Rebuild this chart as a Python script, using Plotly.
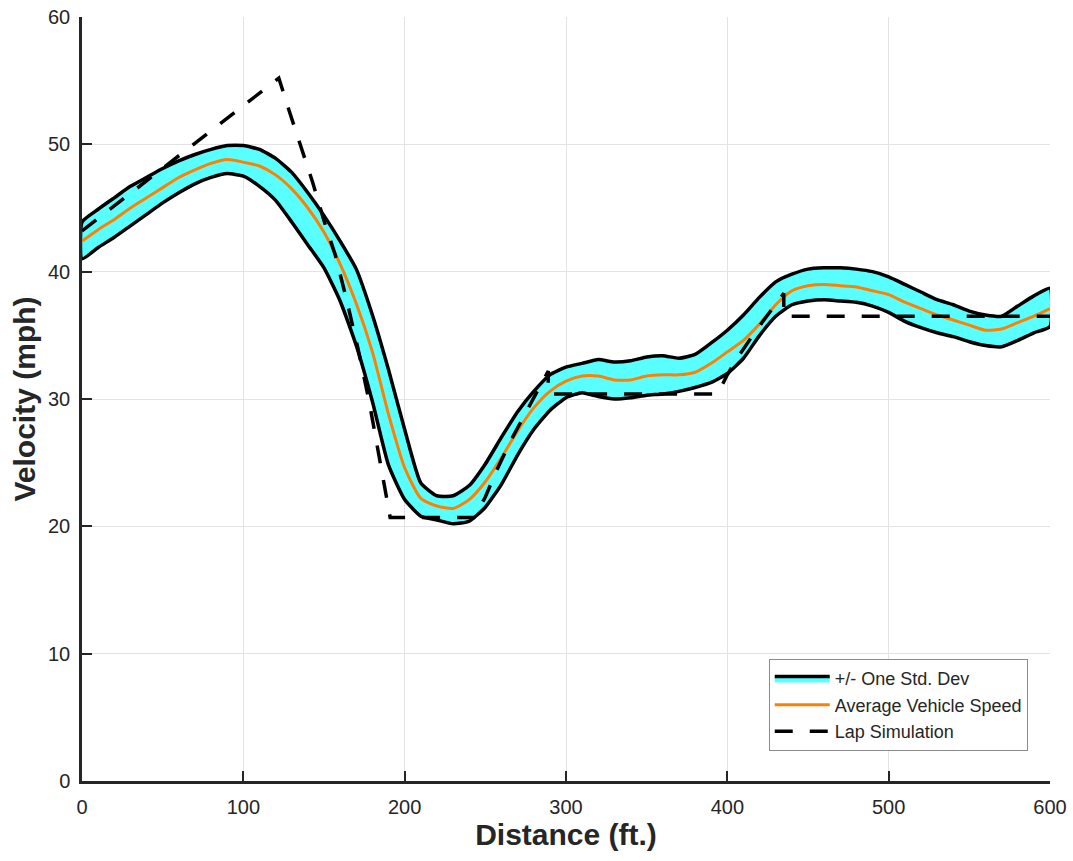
import plotly.graph_objects as go

# ---- data ----
distance = [0, 10, 20, 30, 40, 50, 60, 70, 80, 90, 100, 110, 120, 130, 140, 150, 160, 170, 180, 190,
            200, 210, 220, 230, 240, 250, 260, 270, 280, 290, 300, 310, 320, 330, 340, 350, 360, 370, 380, 390,
            400, 410, 420, 430, 440, 450, 460, 470, 480, 490, 500, 510, 520, 530, 540, 550, 560, 570, 580, 590, 600]

avg_speed = [42.4, 43.3, 44.1, 45.0, 45.8, 46.6, 47.4, 48.0, 48.5, 48.8, 48.6, 48.3, 47.6, 46.5, 45.0, 43.1, 40.6, 37.5, 33.7, 28.8,
             24.6, 22.2, 21.6, 21.4, 22.1, 23.5, 25.4, 27.5, 29.3, 30.6, 31.4, 31.8, 31.8, 31.5, 31.5, 31.8, 31.9, 31.9, 32.1, 32.8,
             33.7, 34.6, 35.9, 37.4, 38.5, 38.9, 39.0, 38.9, 38.8, 38.5, 38.2, 37.6, 37.1, 36.6, 36.2, 35.8, 35.4, 35.5, 36.0, 36.5, 37.1]

upper_std = [43.9, 44.9, 45.8, 46.7, 47.4, 48.1, 48.7, 49.2, 49.6, 49.9, 49.9, 49.6, 48.9, 47.8, 46.2, 44.4, 42.4, 40.2, 36.6, 32.3,
             27.6, 23.4, 22.4, 22.4, 23.2, 24.9, 27.0, 29.0, 30.6, 31.9, 32.5, 32.8, 33.1, 32.9, 33.0, 33.3, 33.4, 33.2, 33.5, 34.4,
             35.4, 36.6, 38.0, 39.2, 39.8, 40.2, 40.3, 40.3, 40.2, 40.0, 39.6, 39.0, 38.4, 37.8, 37.4, 36.9, 36.6, 36.5, 37.3, 38.1, 38.7]

lower_std = [41.0, 41.9, 42.7, 43.6, 44.5, 45.4, 46.2, 46.9, 47.4, 47.7, 47.5, 46.7, 45.6, 43.9, 42.1, 40.3, 37.7, 34.2, 29.8, 24.8,
             22.1, 20.8, 20.5, 20.2, 20.4, 21.5, 23.3, 25.6, 27.6, 29.1, 30.1, 30.5, 30.2, 30.0, 30.1, 30.3, 30.4, 30.6, 30.9, 31.3,
             32.0, 33.2, 35.0, 36.5, 37.4, 37.7, 37.8, 37.7, 37.6, 37.3, 36.8, 36.1, 35.6, 35.2, 34.9, 34.5, 34.2, 34.1, 34.6, 35.2, 35.7]

lap_distance = [0, 122, 129, 136, 143, 150, 157, 164, 171, 178, 184, 188, 191, 243,
                250, 257, 266, 276, 289, 289, 394, 400, 406, 418, 430, 435, 435, 600]
lap_speed = [43.2, 55.2, 52.4, 49.7, 47.0, 44.0, 41.3, 37.8, 34.0, 29.8, 25.8, 22.8, 20.7, 20.7,
             22.3, 24.4, 26.8, 29.1, 32.2, 30.4, 30.4, 31.9, 33.2, 35.4, 37.5, 38.3, 36.5, 36.5]

legend_names = ["+/- One Std. Dev", "Average Vehicle Speed", "Lap Simulation"]

AX = "#262626"
CYAN = "rgb(89,255,255)"
FONT = "Liberation Sans, Arial, sans-serif"

band_x = distance + distance[::-1] + [distance[0]]
band_y = upper_std + lower_std[::-1] + [upper_std[0]]

fig = go.Figure()
fig.add_trace(go.Scatter(
    x=band_x, y=band_y, mode="lines", fill="toself",
    fillcolor=CYAN, line=dict(color="black", width=3.5, shape="spline", smoothing=0.5),
    name=legend_names[0]))
fig.add_trace(go.Scatter(
    x=distance, y=avg_speed, mode="lines",
    line=dict(color="rgb(255,128,0)", width=3, shape="spline", smoothing=0.6),
    name=legend_names[1]))
fig.add_trace(go.Scatter(
    x=lap_distance, y=lap_speed, mode="lines",
    line=dict(color="black", width=3.5, dash="18px,17px"),
    name=legend_names[2]))

fig.update_layout(
    width=1073, height=861,
    margin=dict(l=82, r=23, t=17, b=80),
    plot_bgcolor="white", paper_bgcolor="white",
    font=dict(family=FONT, color=AX, size=20),
    showlegend=True,
    legend=dict(
        x=0.977, y=0.039, xanchor="right", yanchor="bottom",
        bgcolor="white", bordercolor="#8c8c8c", borderwidth=1,
        font=dict(size=18, color=AX, family=FONT),
        itemwidth=55, tracegroupgap=0, traceorder="normal"),
    xaxis=dict(
        range=[0, 600], tickvals=[0, 100, 200, 300, 400, 500, 600], automargin=False,
        showgrid=True, gridcolor="#e3e3e3", gridwidth=1,
        zeroline=False, showline=True, linecolor=AX, linewidth=2.5,
        ticks="inside", ticklen=10, tickwidth=2, tickcolor=AX,
        ticklabelstandoff=6,
        tickfont=dict(size=20, color=AX),
        title=dict(text="<b>Distance (ft.)</b>", font=dict(size=30, color=AX), standoff=8)),
    yaxis=dict(
        range=[0, 60], tickvals=[0, 10, 20, 30, 40, 50, 60], automargin=False,
        showgrid=True, gridcolor="#e3e3e3", gridwidth=1,
        zeroline=False, showline=True, linecolor=AX, linewidth=2.5,
        ticks="inside", ticklen=10, tickwidth=2, tickcolor=AX,
        ticklabelstandoff=5,
        tickfont=dict(size=20, color=AX),
        title=dict(text="<b>Velocity (mph)</b>", font=dict(size=30, color=AX), standoff=4)),
)

fig.write_html("out.html")
